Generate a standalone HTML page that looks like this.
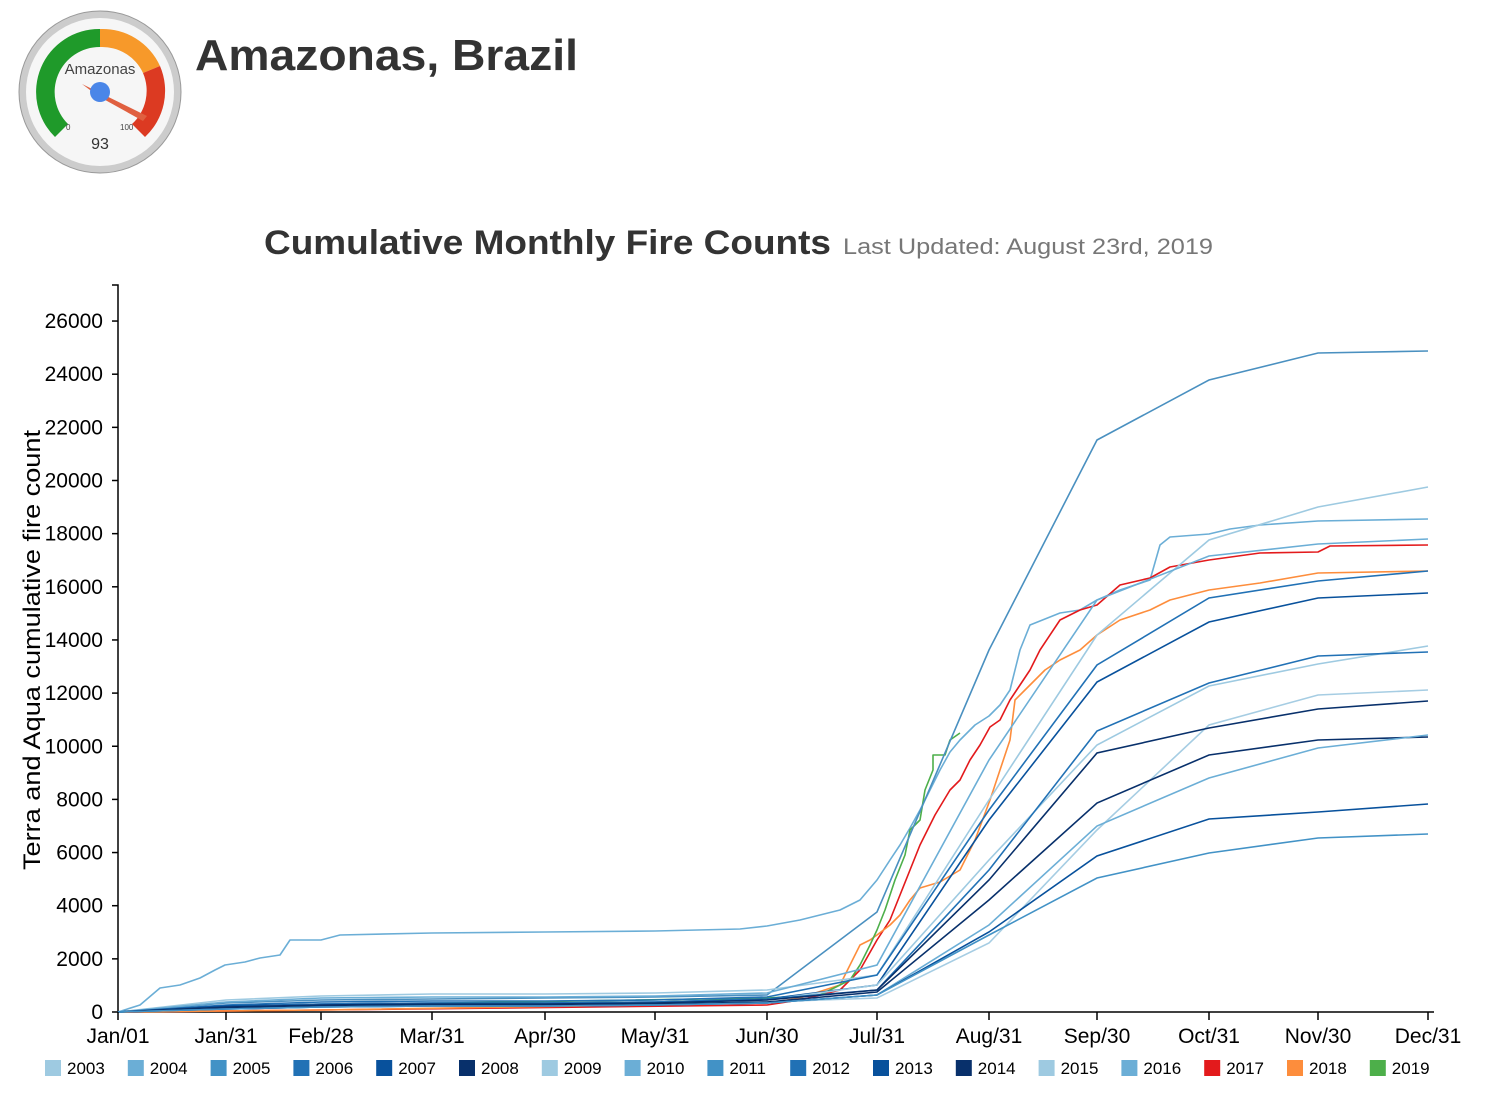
<!DOCTYPE html><html><head><style>body{margin:0;background:#fff;font-family:"Liberation Sans",sans-serif}</style></head><body>
<svg width="1486" height="1096" xmlns="http://www.w3.org/2000/svg" font-family="Liberation Sans, sans-serif">
<circle cx="100" cy="92" r="81" fill="#ccc" stroke="#999" stroke-width="1"/>
<circle cx="100" cy="92" r="74" fill="#f6f6f6"/>
<path d="M55 137 A63 63 0 0 1 100 29 L100 47 A45 45 0 0 0 68 124 Z" fill="#1f9a2a"/>
<path d="M100 29 A63 63 0 0 1 160 66 L143 73 A45 45 0 0 0 100 47 Z" fill="#f7992a"/>
<path d="M160 66 A63 63 0 0 1 145 137 L132 124 A45 45 0 0 0 143 73 Z" fill="#dc3a22"/>
<text x="100" y="74" font-size="15" fill="#444" text-anchor="middle">Amazonas</text>
<polygon points="82,84 147,116 143,121 98,96" fill="#e06040"/>
<circle cx="100" cy="92" r="10" fill="#4a86e8"/>
<text x="66" y="130" font-size="8" fill="#444">0</text>
<text x="120" y="130" font-size="8" fill="#444">100</text>
<text x="100" y="149" font-size="16" fill="#333" text-anchor="middle">93</text>
<text x="195" y="70" font-size="44" font-weight="bold" fill="#333" textLength="383" lengthAdjust="spacingAndGlyphs">Amazonas, Brazil</text>
<text x="264" y="254" font-size="34" font-weight="bold" fill="#333" textLength="567" lengthAdjust="spacingAndGlyphs">Cumulative Monthly Fire Counts</text>
<text x="843" y="254" font-size="22" fill="#777" textLength="370" lengthAdjust="spacingAndGlyphs">Last Updated: August 23rd, 2019</text>
<g stroke="#000" stroke-width="1.5" fill="none">
<path d="M112 285 H118 V1012 H1434"/>
</g>
<g font-size="21" text-anchor="end" fill="#000" id="yt"></g>
<text transform="translate(40,650) rotate(-90)" font-size="24" text-anchor="middle" textLength="440" lengthAdjust="spacingAndGlyphs">Terra and Aqua cumulative fire count</text>
<g fill="none" stroke-width="1.6" stroke-linejoin="round">
<polyline stroke="#6baed6" points="118,1012 140,1005 160,988 180,985 200,978 215,970 225,965 245,962 260,958 280,955 290,940 321,940 340,935 432,933 545,932 655,931 740,929 767,926 800,920 840,910 860,900 877,880 890,860 900,845 910,828 920,810 930,790 940,770 950,752 960,740 975,725 989,716 1000,705 1010,690 1020,650 1030,625 1040,621 1060,613 1080,610 1097,600 1120,590 1150,580 1160,545 1170,537 1209,534 1230,529 1260,525 1318,521 1428,519"/>
<polyline stroke="#e31a1c" points="118,1012 321,1010 767,1005 800,1000 840,990 860,970 877,940 890,920 900,895 910,870 920,845 935,815 950,790 960,780 970,760 980,745 990,727 1000,720 1010,700 1020,685 1030,670 1040,650 1060,620 1080,610 1097,605 1120,585 1150,578 1170,567 1209,560 1260,553 1318,552 1330,546 1428,545"/>
<polyline stroke="#fd8d3c" points="118,1012 321,1010 767,1003 800,998 840,985 850,965 860,945 870,940 877,935 890,925 900,915 910,900 920,888 940,882 960,870 975,840 990,800 1000,770 1010,740 1015,700 1025,690 1035,680 1045,670 1060,660 1080,650 1097,635 1120,620 1150,610 1170,600 1209,590 1260,583 1318,573 1428,571"/>
<polyline stroke="#4daf4a" points="118,1012 321,1005 767,998 820,995 850,980 860,965 870,945 877,930 885,910 895,880 905,855 910,830 920,820 925,790 933,770 933,755 945,755 950,740 960,733"/>
</g>
<g id="ms" fill="none" stroke-width="1.6"></g>
<g id="xt" font-size="21" text-anchor="middle"></g>
<g id="lg" font-size="17"></g>
</svg>
<script>
var ns="http://www.w3.org/2000/svg";
function el(t,a,p,txt){var e=document.createElementNS(ns,t);for(var k in a)e.setAttribute(k,a[k]);if(txt!=null)e.textContent=txt;document.getElementById(p).appendChild(e);return e;}
for(var k=0;k<=13;k++){var y=1012-k*53.15;el('line',{x1:112,x2:118,y1:y,y2:y,stroke:'#000','stroke-width':1.5},'yt');el('text',{x:103,y:y+7},'yt',String(k*2000));}
var X=[118,226,321,432,545,655,767,877,989,1097,1209,1318,1428];
var L=["Jan/01","Jan/31","Feb/28","Mar/31","Apr/30","May/31","Jun/30","Jul/31","Aug/31","Sep/30","Oct/31","Nov/30","Dec/31"];
X.forEach(function(x,i){el('line',{x1:x,x2:x,y1:1012,y2:1020,stroke:'#000','stroke-width':1.5},'xt');el('text',{x:x,y:1043},'xt',L[i]);});
var S=[["#4a90c0",[1012,1003,1000,999,998,997,995,912,650,440,380,353,351]],
["#9ecae1",[1012,1000,996,994,994,993,990,975,800,635,540,507,487]],
["#6baed6",[1012,1002,998,997,997,996,993,965,760,600,556,544,539]],
["#2171b5",[1012,1005,1002,1001,1001,1000,997,975,810,665,598,581,571]],
["#08519c",[1012,1006,1004,1003,1003,1002,999,985,820,682,622,598,593]],
["#9ecae1",[1012,1008,1005,1004,1004,1003,1000,985,860,745,686,664,646]],
["#2171b5",[1012,1007,1004,1003,1003,1002,999,990,870,731,683,656,652]],
["#a6cde3",[1012,1008,1006,1005,1005,1004,1002,998,943,830,725,695,690]],
["#08306b",[1012,1007,1005,1004,1004,1003,1000,990,880,753,728,709,701]],
["#08306b",[1012,1008,1006,1005,1005,1004,1002,992,900,803,755,740,737]],
["#6baed6",[1012,1009,1007,1006,1006,1005,1003,995,925,826,778,748,735]],
["#08519c",[1012,1009,1007,1006,1006,1005,1003,995,932,856,819,812,804]],
["#4292c6",[1012,1009,1007,1006,1006,1005,1003,995,935,878,853,838,834]]];
S.forEach(function(s){el('polyline',{stroke:s[0],points:s[1].map(function(y,i){return X[i]+','+y}).join(' ')},'ms');});
var C=["#9ecae1","#6baed6","#4292c6","#2171b5","#08519c","#08306b","#9ecae1","#6baed6","#4292c6","#2171b5","#08519c","#08306b","#9ecae1","#6baed6","#e31a1c","#fd8d3c","#4daf4a"];
for(var i=0;i<17;i++){var x=45+i*82.8;el('rect',{x:x,y:1060,width:16,height:16,fill:C[i]},'lg');el('text',{x:x+22,y:1074},'lg',String(2003+i));}
</script>
</body></html>
